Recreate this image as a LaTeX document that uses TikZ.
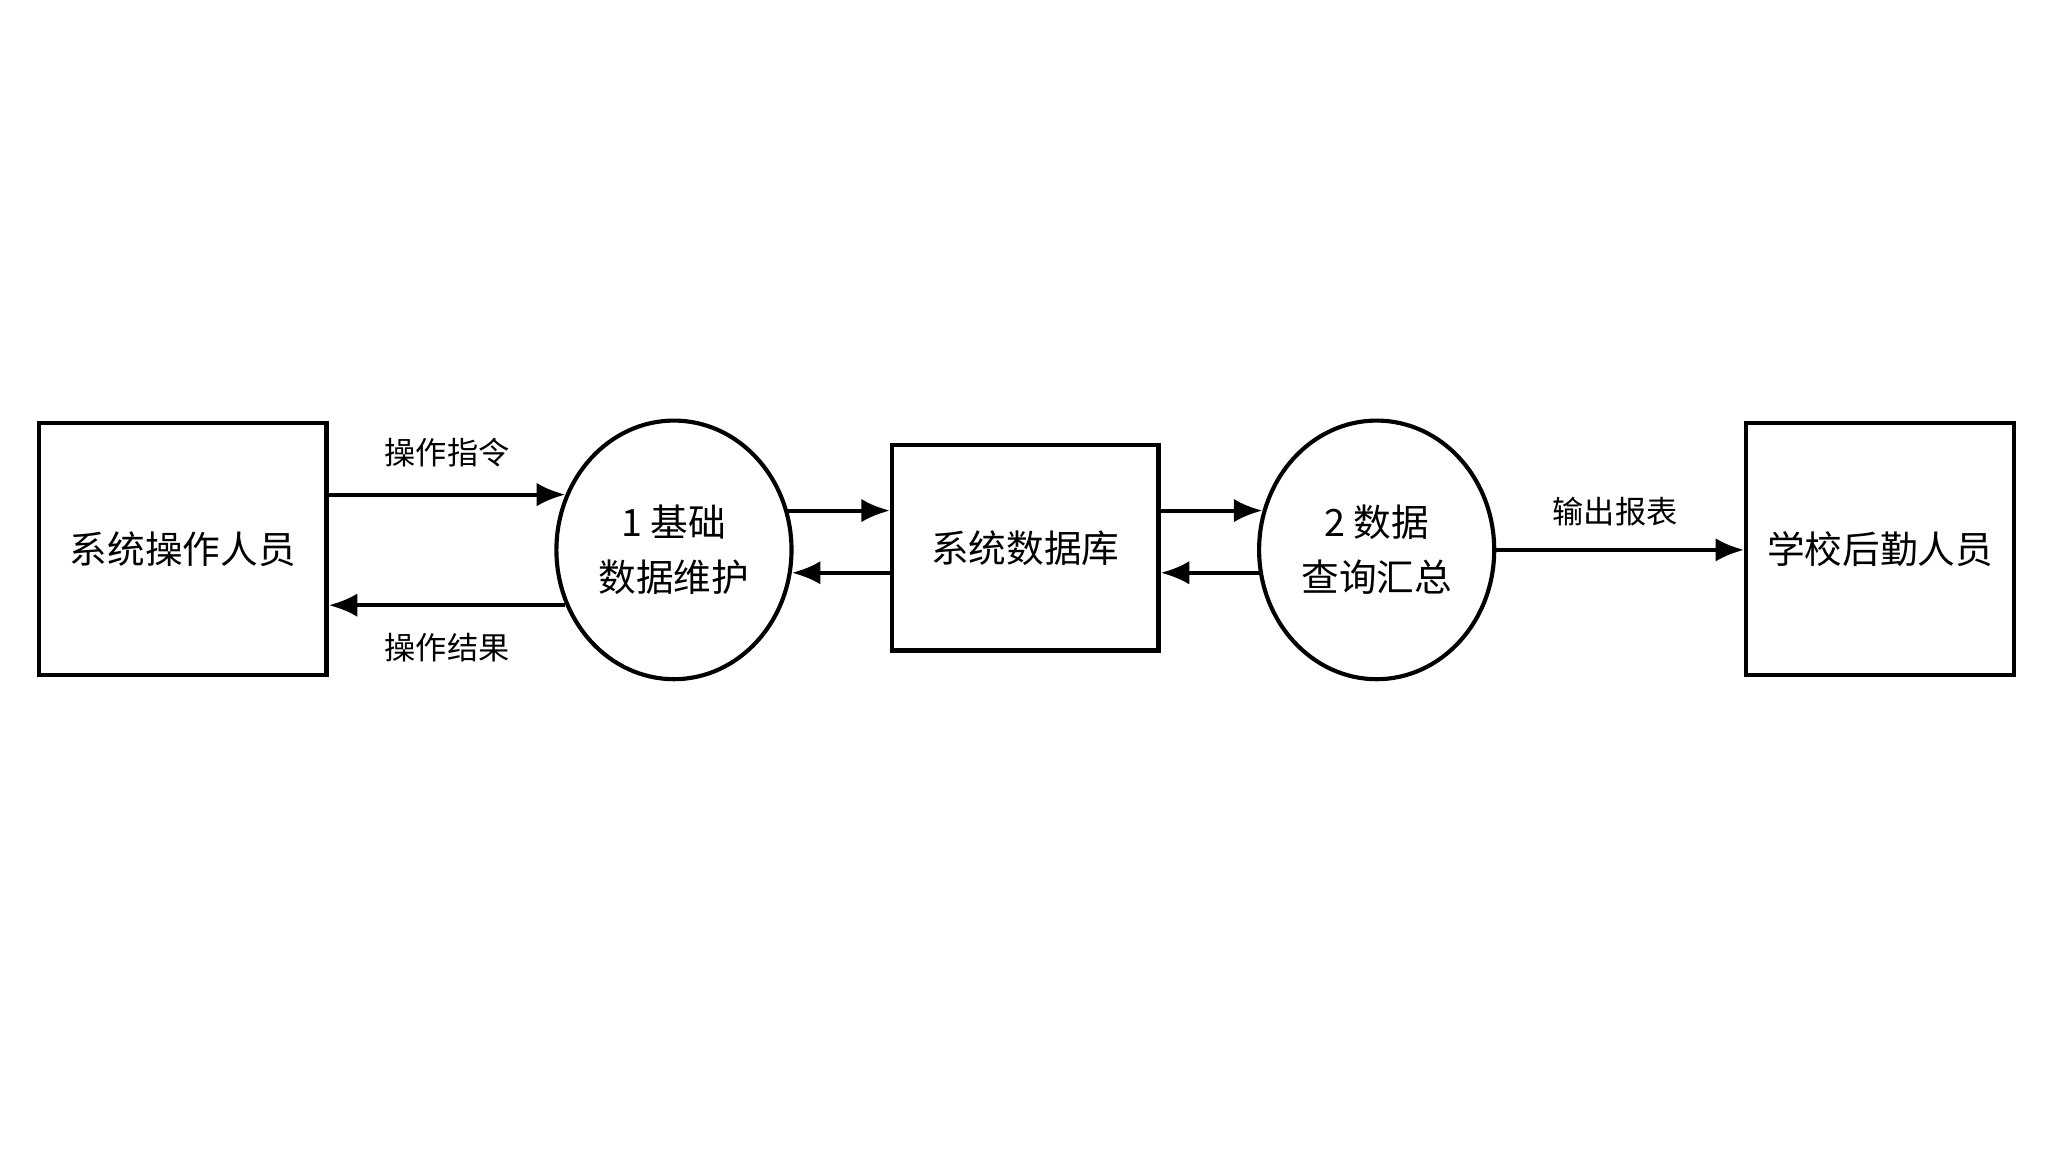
\documentclass[tikz,border=0pt]{standalone}
\usepackage{fontspec}
\setmainfont{Noto Sans CJK SC}
\usetikzlibrary{arrows.meta, positioning, shapes.geometric}
\tikzset{
  ent/.style={rectangle, draw=black, line width=0.9pt, inner sep=0, font=\fontsize{8.2}{10}\selectfont},
  proc/.style={ellipse, draw=black, line width=0.9pt, inner sep=0, minimum width=1.8cm, minimum height=1.98cm, align=center, font=\fontsize{8.2}{12}\selectfont},
  flow/.style={-{Latex[length=2.2mm,width=1.8mm]}, line width=0.9pt},
  lbl/.style={font=\fontsize{6.8}{8}\selectfont}
}
\begin{document}
\begin{tikzpicture}
    \useasboundingbox (0,0) rectangle (15.68,8.82);
    \node (op) [ent, minimum width=2.2cm, minimum height=1.93cm] at (1.40,4.615){系统操作人员};%operator
    \node (p1) [proc] at (5.16,4.61){1 基础\\数据维护};%process 1
    \node (db) [ent, minimum width=2.04cm, minimum height=1.57cm] at (7.85,4.625){系统数据库};%database
    \node (p2) [proc] at (10.54,4.61){2 数据\\查询汇总};%process 2
    \node (usr) [ent, minimum width=2.05cm, minimum height=1.93cm] at (14.395,4.615){学校后勤人员};%logistics staff
    \draw[flow] (op.east |- p1.153) to node[lbl, above=0.08]{操作指令} (p1.153);%command
    \draw[flow] (p1.207) to node[lbl, below=0.08]{操作结果} (op.east |- p1.207);%result
    \draw[flow] (p1.19) to (db.west |- p1.19);%write
    \draw[flow] (db.west |- p1.-11.5) to (p1.-11.5);%read
    \draw[flow] (db.east |- p2.161) to (p2.161);%query
    \draw[flow] (p2.191.5) to (db.east |- p2.191.5);%answer
    \draw[flow] (p2.east) to node[lbl, above=0.05, xshift=-0.04cm]{输出报表} (usr.west |- p2.east);%report
\end{tikzpicture}
\end{document}
